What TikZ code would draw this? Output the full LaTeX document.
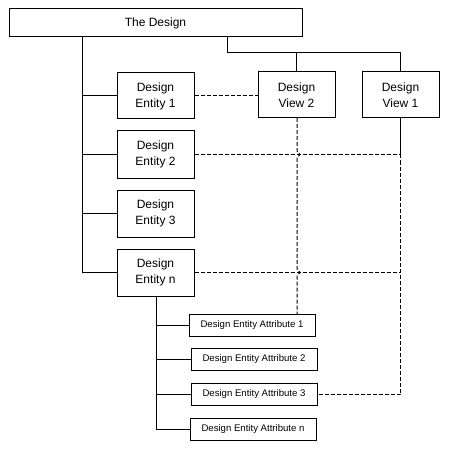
\documentclass[tikz,border=0pt]{standalone}
\usepackage{fontspec}
\setmainfont{Liberation Sans}
\begin{document}
\begin{tikzpicture}[x=1pt,y=-1pt,
  box/.style={draw,line width=1pt,inner sep=0pt,align=center,font=\fontsize{12}{16}\selectfont},
  abox/.style={draw,line width=1pt,inner sep=0pt,minimum width=126pt,minimum height=22pt,font=\fontsize{9.6}{11}\selectfont},
  solidline/.style={line width=1pt},
  dashline/.style={line width=1pt,dash pattern=on 4pt off 2pt}]
\useasboundingbox (0,0) rectangle (448,449);
\node[box,minimum width=293pt,minimum height=28pt] (d) at (155.5,23) {The Design};
\node[box,minimum width=77pt,minimum height=46pt] (e1) at (155.5,96) {Design\\Entity 1};
\node[box,minimum width=77pt,minimum height=47pt] (e2) at (155.5,154.5) {Design\\Entity 2};
\node[box,minimum width=77pt,minimum height=47pt] (e3) at (155.5,213.5) {Design\\Entity 3};
\node[box,minimum width=77pt,minimum height=47pt] (en) at (155.5,272.5) {Design\\Entity n};
\node[box,minimum width=77pt,minimum height=46pt] (v2) at (296.5,95) {Design\\View 2};
\node[box,minimum width=77pt,minimum height=46pt] (v1) at (400.5,95) {Design\\View 1};
\node[abox] (a1) at (252,325) {Design Entity Attribute 1};
\node[abox] (a2) at (254,359) {Design Entity Attribute 2};
\node[abox] (a3) at (254,394.5) {Design Entity Attribute 3};
\node[abox] (an) at (253,429) {Design Entity Attribute n};
% trunk from The Design
\coordinate (t0) at (82,37);
\draw[solidline] (t0) -- (82,272.5);
\draw[solidline] (82,96) -- (e1.west);
\draw[solidline] (82,154.5) -- (e2.west);
\draw[solidline] (82,213.5) -- (e3.west);
\draw[solidline] (82,272.5) -- (en.west);
% views
\coordinate (b0) at (227.5,37);
\draw[solidline] (b0) -- (227.5,53) -- (400.5,53) -- (v1.north);
\draw[solidline] (296.5,53) -- (v2.north);
% attribute trunk
\coordinate (s0) at (156,296);
\draw[solidline] (s0) -- (156,429);
\draw[solidline] (156,325) -- (a1.west);
\draw[solidline] (156,359) -- (a2.west);
\draw[solidline] (156,394.5) -- (a3.west);
\draw[solidline] (156,429) -- (an.west);
% dashed relations
\coordinate (k2) at (400.5,154.5);
\coordinate (kn) at (400.5,272.5);
\coordinate (k3) at (400.5,394.5);
\coordinate (a1t) at (297,314);
\draw[dashline] (e1.east) -- (v2.west |- e1.east);
\draw[dashline] (e2.east) -- (k2);
\draw[dashline] (en.east) -- (kn);
\draw[solidline] (v1.south) -- (k2);
\draw[dashline] (k2) -- (k3) -- (a3.east);
\draw[dashline] (297,118) -- (297,151) .. controls (299,152.5) .. (300,154.5) .. controls (299,156.5) .. (297,158) -- (297,269) .. controls (299,270.5) .. (300,272.5) .. controls (299,274.5) .. (297,276) -- (a1t);
\end{tikzpicture}
\end{document}
